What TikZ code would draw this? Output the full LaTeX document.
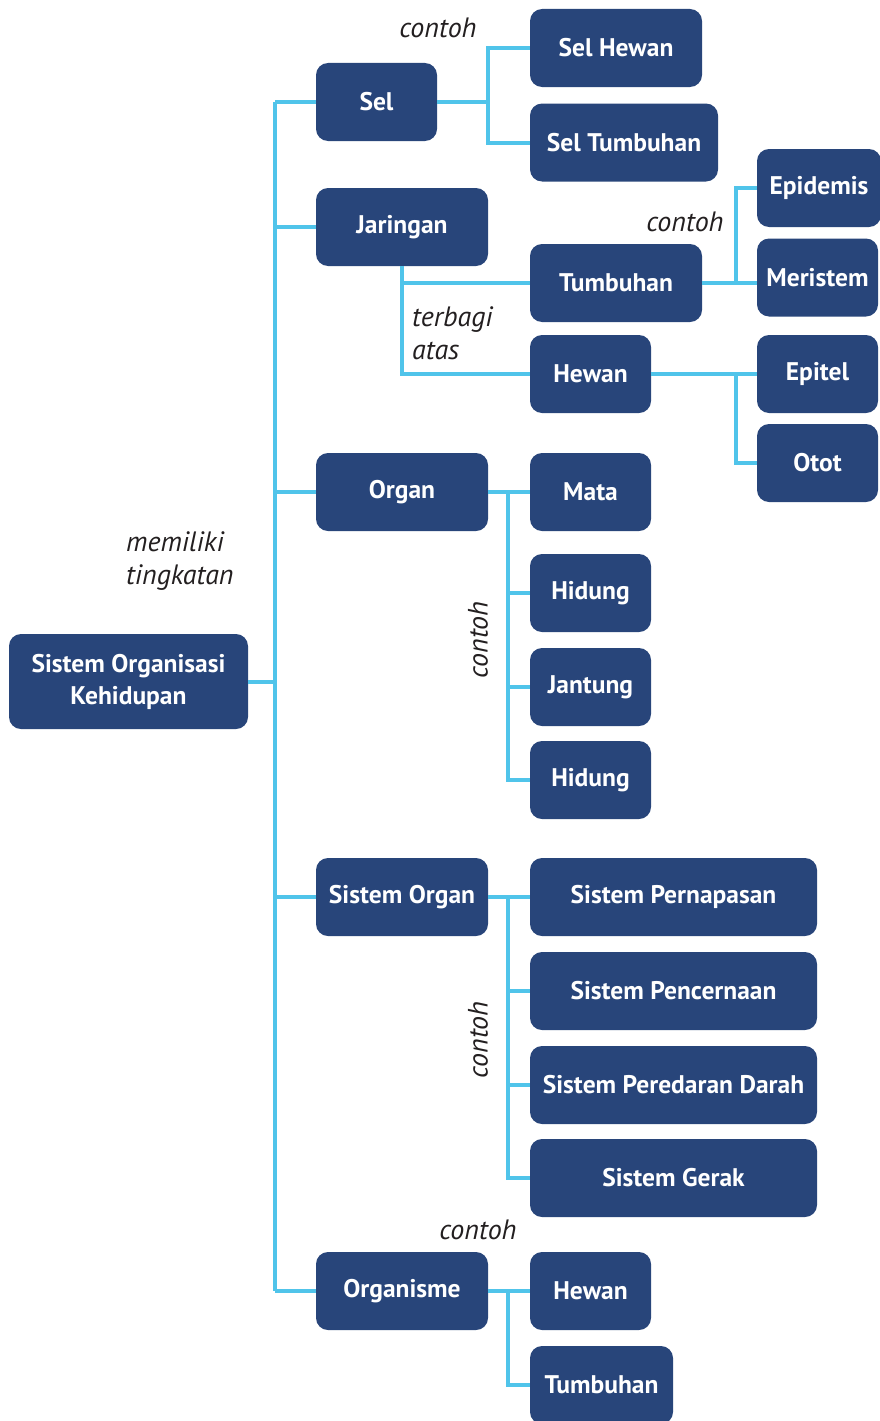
\documentclass[tikz,border=0pt]{standalone}
\usepackage{fontspec}
\setmainfont{PT Sans}
\usepackage{tikz}

\definecolor{biruTua}{RGB}{40,69,122}
\definecolor{biruMuda}{RGB}{80,196,234}
\definecolor{teks}{RGB}{35,31,32}

\begin{document}
\begin{tikzpicture}[x=1pt, y=-1pt,
    kotak/.style={fill=biruTua, draw=none, rounded corners=12pt, text=white,
        font=\fontsize{25.5}{32}\selectfont\bfseries, align=center,
        minimum height=78pt, inner sep=0pt},
    garis/.style={draw=biruMuda, line width=4pt},
    ket/.style={text=teks, font=\fontsize{28}{33}\selectfont\itshape, inner sep=0pt}]
    \useasboundingbox (0,0) rectangle (879,1421);

    % Kotak utama
    \node[kotak, minimum width=239pt, minimum height=95pt] (akar) at (128.5,681.5) {Sistem Organisasi\\Kehidupan};

    % Tingkatan
    \node[kotak, minimum width=121pt] (sel) at (376.5,102) {Sel};
    \node[kotak, minimum width=172pt] (jaringan) at (402,227) {Jaringan};
    \node[kotak, minimum width=172pt] (organ) at (402,492) {Organ};
    \node[kotak, minimum width=172pt] (sisorgan) at (402,897) {Sistem Organ};
    \node[kotak, minimum width=172pt] (organisme) at (402,1291) {Organisme};

    % Contoh sel
    \node[kotak, minimum width=172pt] (selhewan) at (616,48) {Sel Hewan};
    \node[kotak, minimum width=188pt] (seltumbuhan) at (624,142.5) {Sel Tumbuhan};

    % Jaringan
    \node[kotak, minimum width=172pt] (jtumbuhan) at (616,283) {Tumbuhan};
    \node[kotak, minimum width=121pt] (jhewan) at (590.5,374) {Hewan};
    \node[kotak, minimum width=124pt] (epidemis) at (819,188) {Epidemis};
    \node[kotak, minimum width=121pt] (meristem) at (817.5,277.5) {Meristem};
    \node[kotak, minimum width=121pt] (epitel) at (817.5,374) {Epitel};
    \node[kotak, minimum width=121pt] (otot) at (817.5,463) {Otot};

    % Organ
    \node[kotak, minimum width=121pt] (mata) at (590.5,492) {Mata};
    \node[kotak, minimum width=121pt] (hidung) at (590.5,593) {Hidung};
    \node[kotak, minimum width=121pt] (jantung) at (590.5,687) {Jantung};
    \node[kotak, minimum width=121pt] (hidungb) at (590.5,780) {Hidung};

    % Sistem organ
    \node[kotak, minimum width=287pt] (napas) at (673.5,897) {Sistem Pernapasan};
    \node[kotak, minimum width=287pt] (cerna) at (673.5,991) {Sistem Pencernaan};
    \node[kotak, minimum width=287pt] (darah) at (673.5,1085) {Sistem Peredaran Darah};
    \node[kotak, minimum width=287pt] (gerak) at (673.5,1178) {Sistem Gerak};

    % Organisme
    \node[kotak, minimum width=121pt] (ohewan) at (590.5,1291) {Hewan};
    \node[kotak, minimum width=143pt] (otumbuhan) at (601.5,1385) {Tumbuhan};

    % Garis
    \coordinate (batang) at (275,0);
    \coordinate (cabangsel) at (488,0);
    \coordinate (cabangjar) at (736,0);
    \coordinate (cabangorg) at (508,0);
    \draw[garis] (akar.east) -- (akar.east -| batang);
    \draw[garis] (sel.west -| batang) -- (organisme.west -| batang);
    \foreach \n in {sel,jaringan,organ,sisorgan,organisme}
        \draw[garis] (\n.west -| batang) -- (\n.west);

    \draw[garis] (sel.east) -- (sel.east -| cabangsel);
    \draw[garis] (selhewan.west) -- (selhewan.west -| cabangsel) -- (seltumbuhan.west -| cabangsel) -- (seltumbuhan.west);

    \draw[garis] (jaringan.south) -- (jaringan.south |- jhewan.west) -- (jhewan.west);
    \draw[garis] (jaringan.south |- jtumbuhan.west) -- (jtumbuhan.west);
    \draw[garis] (jtumbuhan.east) -- (jtumbuhan.east -| meristem.west);
    \draw[garis] (epidemis.west) -- (epidemis.west -| cabangjar) -- (jtumbuhan.east -| cabangjar);
    \draw[garis] (jhewan.east) -- (epitel.west);
    \draw[garis] (epitel.west -| cabangjar) -- (otot.west -| cabangjar) -- (otot.west);

    \draw[garis] (organ.east) -- (mata.west);
    \draw[garis] (mata.west -| cabangorg) -- (hidungb.west -| cabangorg) -- (hidungb.west);
    \foreach \n in {hidung,jantung}
        \draw[garis] (\n.west -| cabangorg) -- (\n.west);

    \draw[garis] (sisorgan.east) -- (napas.west);
    \draw[garis] (napas.west -| cabangorg) -- (gerak.west -| cabangorg) -- (gerak.west);
    \foreach \n in {cerna,darah}
        \draw[garis] (\n.west -| cabangorg) -- (\n.west);

    \draw[garis] (organisme.east) -- (ohewan.west);
    \draw[garis] (ohewan.west -| cabangorg) -- (otumbuhan.west -| cabangorg) -- (otumbuhan.west);

    % Keterangan
    \node[ket, align=left, anchor=west] (kmemiliki) at (126,561) {memiliki\\tingkatan};
    \node[ket] (ksel) at (438,28) {contoh};
    \node[ket] (kjar) at (685,222) {contoh};
    \node[ket, align=left, anchor=west] (kbagi) at (412,333) {terbagi\\atas};
    \node[ket, rotate=90] (korgan) at (478,640) {contoh};
    \node[ket, rotate=90] (ksis) at (478,1040) {contoh};
    \node[ket] (korgm) at (478,1230) {contoh};
\end{tikzpicture}
\end{document}
